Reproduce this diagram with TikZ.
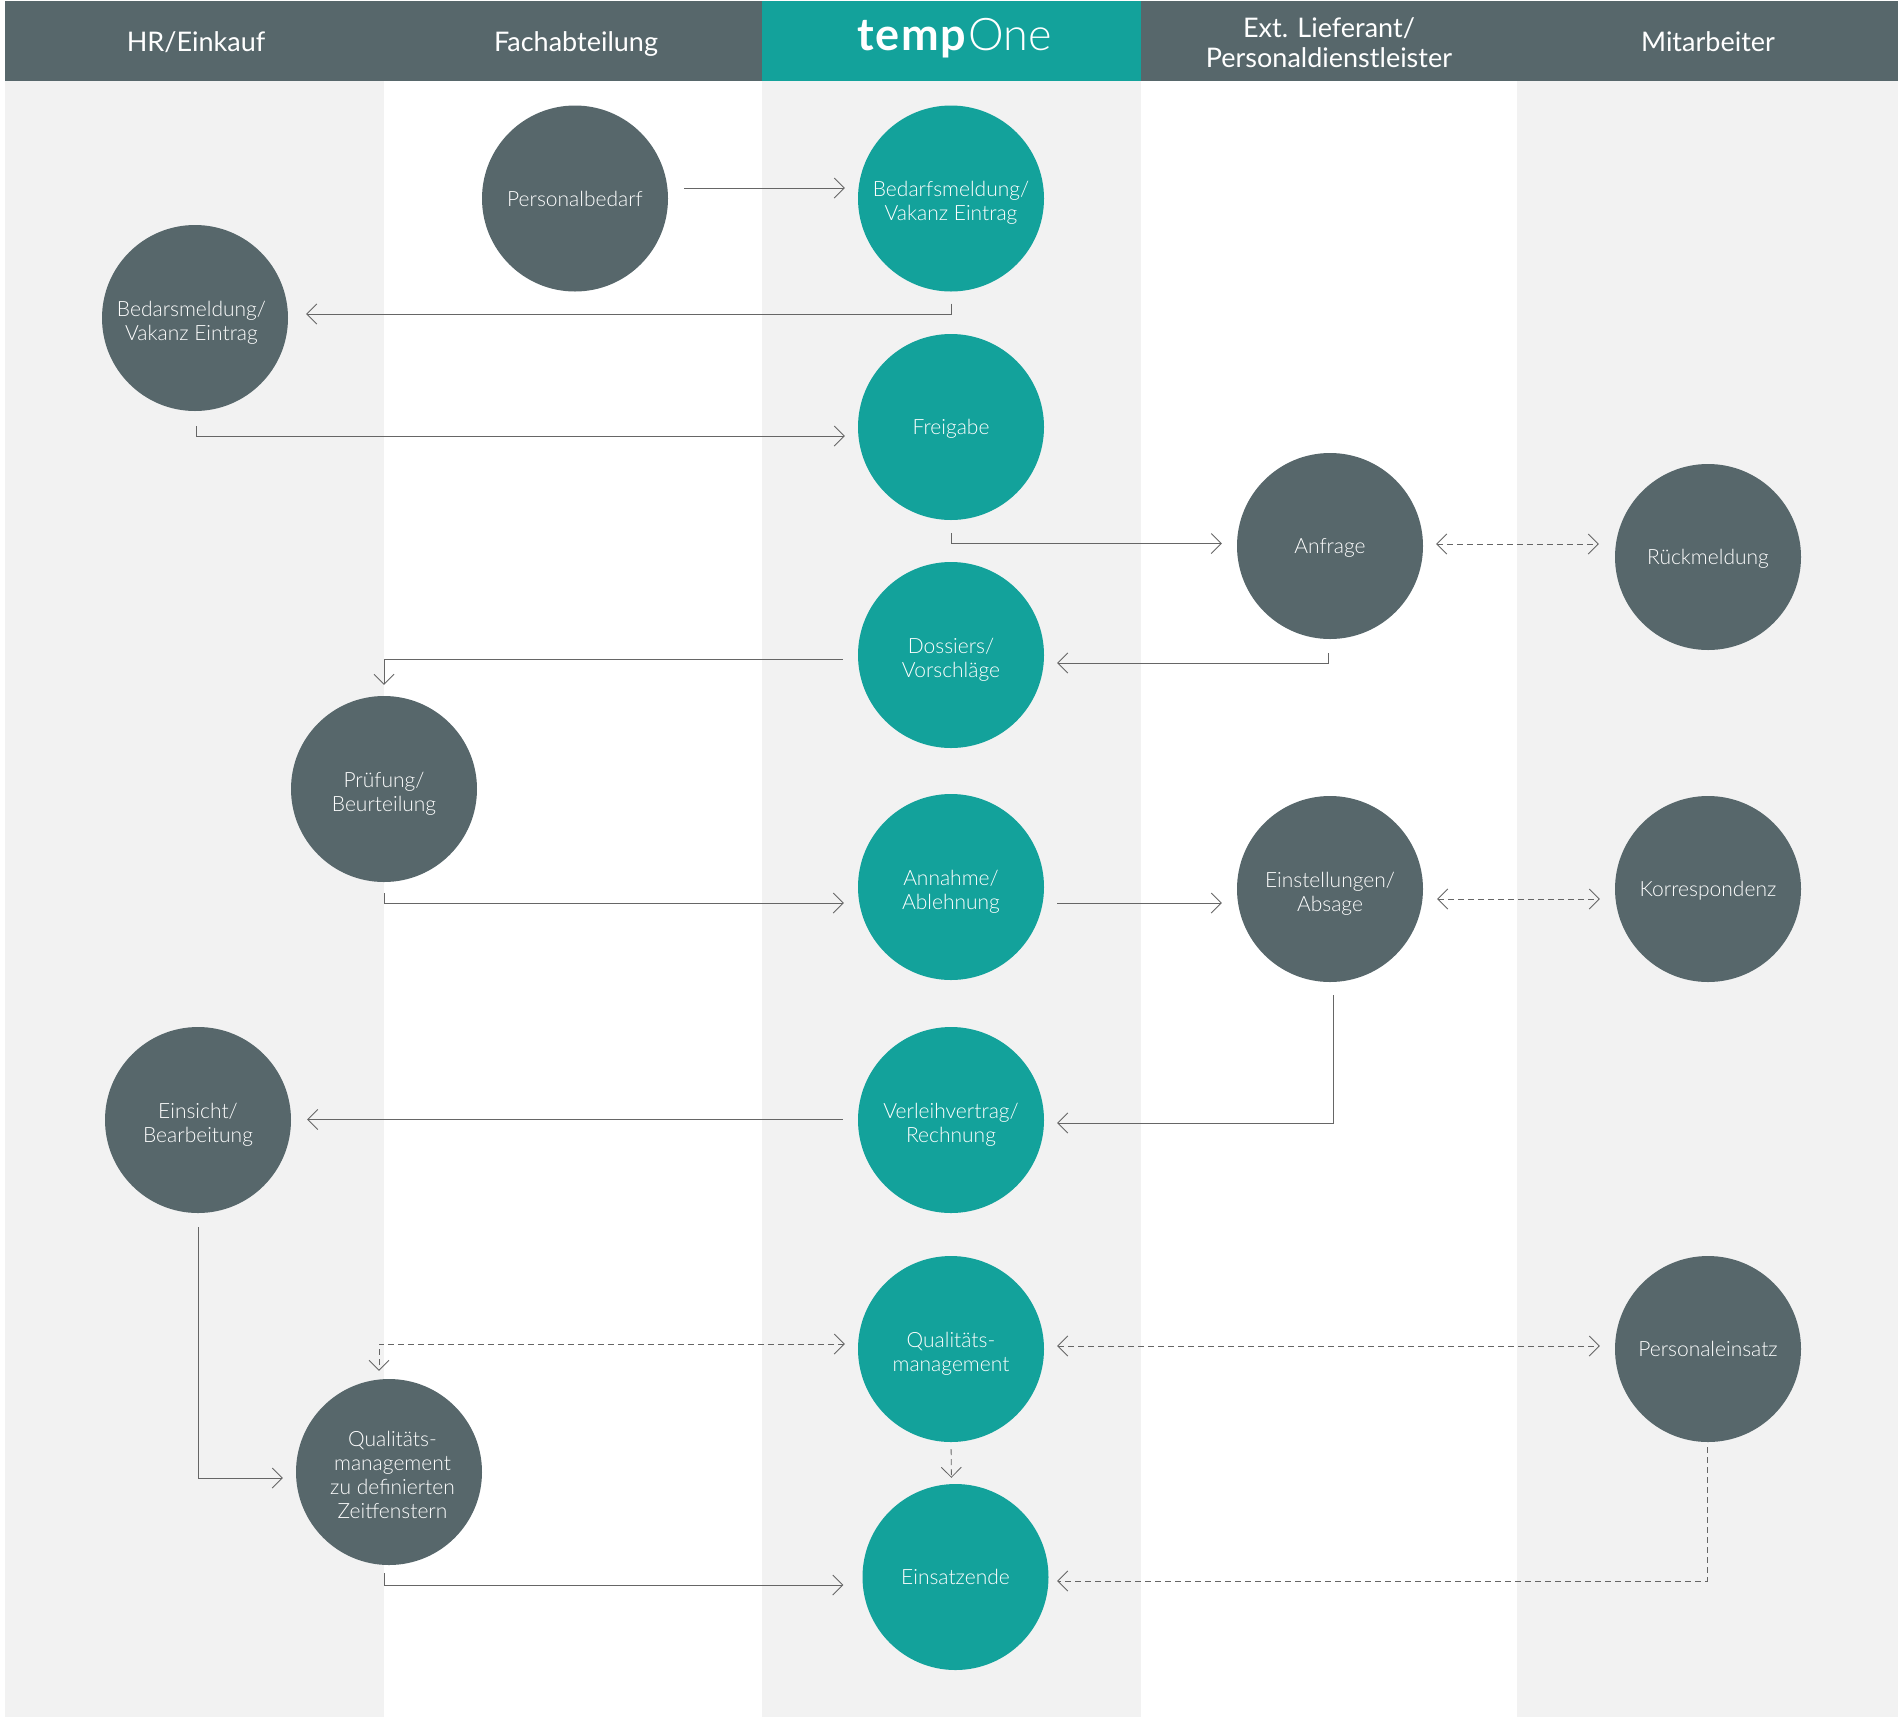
\documentclass[tikz,border=0pt]{standalone}
\usepackage{fontspec}
\setmainfont{Lato}[UprightFont=* Light,BoldFont=* Bold]
\newfontfamily\headfont{Lato}
\usetikzlibrary{arrows.meta,positioning}
\definecolor{TempSlate}{HTML}{57676B}
\definecolor{TempTeal}{HTML}{13A29B}
\definecolor{TempBand}{HTML}{F2F2F2}
\definecolor{TempLine}{HTML}{666666}
\newcommand{\lift}{\rule{0pt}{26pt}}
\begin{document}
\begin{tikzpicture}[
    x=1pt,
    y=-1pt,
    stepnode/.style={circle, minimum size=186pt, inner sep=0pt, align=center, text=white, font=\fontsize{21}{24}\selectfont, execute at begin node={\rule{0pt}{21pt}}, execute at end node={\rule[-6pt]{0pt}{6pt}}},
    side/.style={stepnode, fill=TempSlate},
    core/.style={stepnode, fill=TempTeal},
    headbar/.style={inner sep=0pt, minimum height=80pt, align=center, text=white, font=\headfont\fontsize{27}{30}\selectfont},
    headtext/.style={headbar, execute at begin node={\rule{0pt}{29pt}}, execute at end node={\rule[-8pt]{0pt}{8pt}}},
    flow/.style={-{Straight Barb[length=10pt,width=20pt]}, line width=0.8pt, color=TempLine},
    hint/.style={flow, dash pattern=on 6pt off 4pt},
    dual/.style={hint, {Straight Barb[length=10pt,width=20pt]}-{Straight Barb[length=10pt,width=20pt]}}
  ]
    \useasboundingbox (0,0) rectangle (1898,1717);

    \foreach \xa/\xb in {5/384,762/1141,1517/1898}
      \fill[TempBand] (\xa,81) rectangle (\xb,1717);

    \node[headbar, fill=TempSlate, minimum width=757pt] (leftbar) at (383.5,41) {};
    \node[headbar, fill=TempSlate, minimum width=757pt] (rightbar) at (1519.5,41) {};
    \node[headbar, fill=TempTeal, minimum width=379pt] (midbar) at (951.5,41) {};
    \node[headtext] (hr) at (196,41) {HR/Einkauf};
    \node[headtext] (fach) at (576,41) {Fachabteilung};
    \node[headbar] (brand) at (954.5,38) {\fontsize{45}{45}\selectfont\addfontfeature{LetterSpace=4}\textbf{temp}{\setmainfont{Lato}[UprightFont=* Light]\rmfamily One}};
    \node[headtext] (lieferant) at (1329,41) {\rule{0pt}{30pt}Ext. Lieferant/\\Personaldienstleister};
    \node[headtext] (mitarbeiter) at (1708,41) {Mitarbeiter};

    \node[side] (personal) at (575,198.5) {Personalbedarf};
    \node[core] (bedarf) at (951,198.5) {\lift Bedarfsmeldung/\\Vakanz Eintrag};
    \node[side] (bedars) at (195,318) {\lift Bedarsmeldung/\hspace*{7pt}\\Vakanz Eintrag\hspace*{7pt}};
    \node[core] (freigabe) at (951,427) {Freigabe};
    \node[side] (anfrage) at (1330,546) {Anfrage};
    \node[side] (rueck) at (1708,557) {Rückmeldung};
    \node[core] (dossiers) at (951,655) {\lift Dossiers/\\Vorschläge};
    \node[side] (pruefung) at (384,789) {\lift Prüfung/\\Beurteilung};
    \node[core] (annahme) at (951,887) {\lift Annahme/\\Ablehnung};
    \node[side] (einstellung) at (1330,889) {\lift Einstellungen/\\Absage};
    \node[side] (korr) at (1708,889) {Korrespondenz};
    \node[core] (verleih) at (951,1120) {\lift Verleihvertrag/\\Rechnung};
    \node[side] (einsicht) at (198,1120) {\lift Einsicht/\\Bearbeitung};
    \node[core] (quali) at (951,1349) {\lift Qualitäts-\\management};
    \node[side] (einsatz) at (1708,1349) {Personaleinsatz};
    \node[side] (zeitfenster) at (389,1472) {\lift\hspace*{7pt}Qualitäts-\\\hspace*{7pt}management\\\hspace*{7pt}zu definierten\\\hspace*{7pt}Zeitfenstern};
    \node[core] (ende) at (955.5,1577) {Einsatzende};

    \draw[flow, shorten <=16pt, shorten >=13pt] ([yshift=10.5pt]personal.east) -- ([yshift=10.5pt]bedarf.west);
    \draw[flow, shorten <=12pt, shorten >=18pt] (bedarf.south) |- ([yshift=4pt]bedars.east);
    \draw[flow, shorten <=15pt, shorten >=13pt] ([xshift=1pt]bedars.south) |- ([yshift=-9pt]freigabe.west);
    \draw[flow, shorten <=13pt, shorten >=15pt] (freigabe.south) |- ([yshift=2.5pt]anfrage.west);
    \draw[dual, shorten <=13pt, shorten >=16pt] ([yshift=2pt]anfrage.east) -- ([yshift=13pt]rueck.west);
    \draw[flow, shorten <=14pt, shorten >=13pt] ([xshift=-2pt]anfrage.south) |- ([yshift=-8pt]dossiers.east);
    \draw[flow, shorten <=15pt, shorten >=11pt] ([yshift=-4pt]dossiers.west) -| (pruefung.north);
    \draw[flow, shorten <=11pt, shorten >=14pt] (pruefung.south) |- ([yshift=-16pt]annahme.west);
    \draw[flow, shorten <=13pt, shorten >=15pt] ([yshift=-16pt]annahme.east) -- ([yshift=-14pt]einstellung.west);
    \draw[dual, shorten <=14pt, shorten >=15pt] ([yshift=-10pt]einstellung.east) -- ([yshift=-10pt]korr.west);
    \draw[flow, shorten <=13pt, shorten >=13pt] ([xshift=3pt]einstellung.south) |- ([yshift=-3pt]verleih.east);
    \draw[flow, shorten <=15pt, shorten >=16pt] ([yshift=0.5pt]verleih.west) -- ([yshift=0.5pt]einsicht.east);
    \draw[flow, shorten <=14pt, shorten >=13pt] (einsicht.south) |- ([yshift=-6pt]zeitfenster.west);
    \draw[dual, shorten <=13pt, shorten >=8pt] ([yshift=5pt]quali.west) -| ([xshift=-10pt]zeitfenster.north);
    \draw[dual, shorten <=13pt, shorten >=15pt] ([yshift=3pt]quali.east) -- ([yshift=3pt]einsatz.west);
    \draw[hint, shorten <=7pt, shorten >=6pt] (quali.south) -- ([xshift=-4pt]ende.north);
    \draw[flow, shorten <=8pt, shorten >=19pt] ([xshift=-4.5pt]zeitfenster.south) |- ([yshift=-8pt]ende.west);
    \draw[hint, shorten <=5pt, shorten >=8.5pt] ([xshift=-1pt]einsatz.south) |- ([yshift=-4pt]ende.east);
  \end{tikzpicture}
\end{document}
